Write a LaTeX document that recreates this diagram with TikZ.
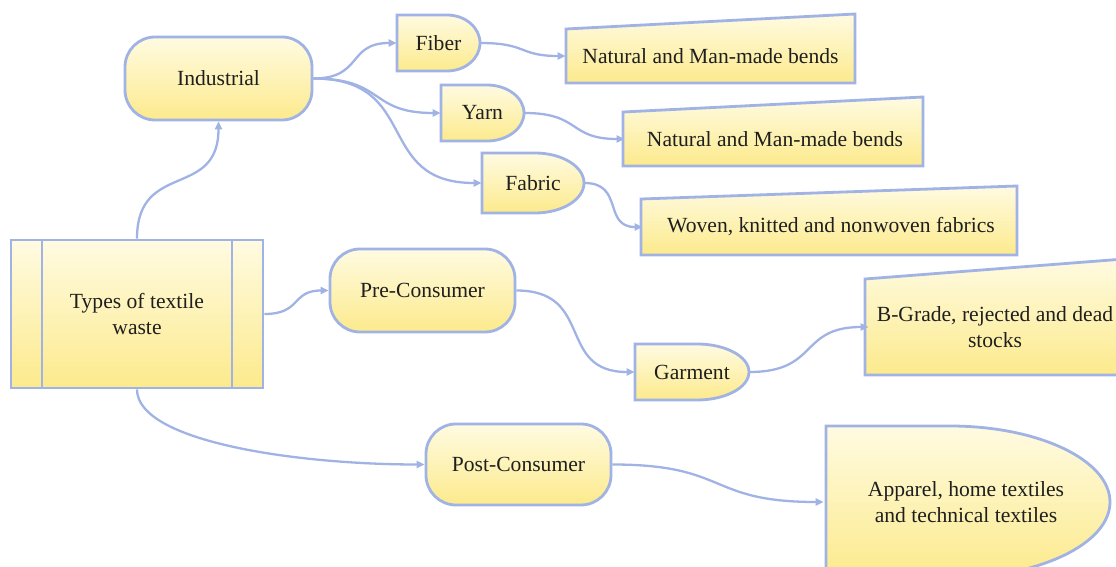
\documentclass[tikz,border=0pt]{standalone}
\usepackage{fontspec}
\setmainfont{Liberation Serif}
\usetikzlibrary{arrows.meta}
\definecolor{wasteline}{RGB}{160,179,228}
\definecolor{wastetop}{RGB}{255,251,226}
\definecolor{wastebot}{RGB}{252,234,140}
\tikzset{
  wastebox/.style={draw=wasteline, line width=1.4pt,
    top color=wastetop, bottom color=wastebot},
  txt/.style={inner sep=0pt, align=center, text=black!88,
    font=\fontsize{10.8}{12.8}\selectfont},
  size/.style 2 args={minimum width=#1, minimum height=#2},
  pill/.style={wastebox, txt, rounded corners=15pt},
  flow/.style={draw=wasteline, line width=1.15pt, looseness=1.4,
    -{Triangle[length=4pt,width=3.6pt]}}
}

\begin{document}
\begin{tikzpicture}[x=0.5pt,y=-0.5pt]
  \useasboundingbox (0,0) rectangle (1116,567);
  % source box with its two side bars
  \node[wastebox, txt, size={126pt}{74pt}] (types) at (137,314)
    {Types of textile\\waste};
  \draw[wasteline, line width=1.4pt] (42,240) -- (42,388) (232,240) -- (232,388);
  % rounded boxes
  \node[pill, size={93.5pt}{41.5pt}] (industrial) at (218.5,78.5) {Industrial};
  \node[pill, size={92.5pt}{41.5pt}] (pre) at (422.5,290.5) {Pre-Consumer};
  \node[pill, size={92.5pt}{40.5pt}] (post) at (518.5,464.5) {Post-Consumer};
  % delay shaped boxes
  \path[wastebox] (397,15) -- (447,15)
    arc[start angle=-90, end angle=90, x radius=33, y radius=28] -- (397,71) -- cycle;
  \node[txt, size={41.5pt}{28pt}] (fiber) at (438.5,43) {Fiber};
  \path[wastebox] (441,85) -- (487,85)
    arc[start angle=-90, end angle=90, x radius=37, y radius=28] -- (441,141) -- cycle;
  \node[txt, size={41.5pt}{28pt}] (yarn) at (482.5,113) {Yarn};
  \path[wastebox] (482,153) -- (535,153)
    arc[start angle=-90, end angle=90, x radius=49, y radius=30] -- (482,213) -- cycle;
  \node[txt, size={51pt}{30pt}] (fabric) at (533,183) {Fabric};
  \path[wastebox] (635,344) -- (697,344)
    arc[start angle=-90, end angle=90, x radius=52, y radius=28] -- (635,400) -- cycle;
  \node[txt, size={57pt}{28pt}] (garment) at (692,372) {Garment};
  \path[wastebox] (826,426) -- (950,426)
    arc[start angle=-90, end angle=90, x radius=160, y radius=76] -- (826,578) -- cycle;
  \node[txt, size={142pt}{76pt}] (apparel) at (966,502)
    {Apparel, home textiles\\and technical textiles};
  % slanted top boxes
  \path[wastebox] (566,29) -- (855,14) -- (855,83) -- (566,83) -- cycle;
  \node[txt, size={144.5pt}{27pt}] (nat1) at (710.5,56) {Natural and Man-made bends};
  \path[wastebox] (623,112) -- (923,97) -- (923,166) -- (623,166) -- cycle;
  \node[txt, size={150pt}{27pt}] (nat2) at (775,139) {Natural and Man-made bends};
  \path[wastebox] (641,199) -- (1017,186) -- (1017,255) -- (641,255) -- cycle;
  \node[txt, size={188pt}{28pt}] (woven) at (831,227)
    {Woven, knitted and nonwoven fabrics};
  \path[wastebox] (865,279) -- (1137,258) -- (1137,375) -- (865,375) -- cycle;
  \node[txt, size={126pt}{48pt}] (bgrade) at (995,327)
    {B-Grade, rejected and dead\\stocks};
  % connectors
  \draw[flow] (types.north) to[out=90,in=-90] (industrial.south);
  \foreach \dst in {fiber,yarn,fabric}{
    \draw[flow] (industrial.east) to[out=0,in=180] (\dst.west);
  }
  \foreach \src/\dst in {fiber/nat1,yarn/nat2,fabric/woven,types/pre,
      pre/garment,garment/bgrade,post/apparel}{
    \draw[flow] (\src.east) to[out=0,in=180] (\dst.west);
  }
  \draw[flow, out looseness=0.45, in looseness=1.1] (types.south)
    to[out=-90,in=180] (post.west);
\end{tikzpicture}
\end{document}
